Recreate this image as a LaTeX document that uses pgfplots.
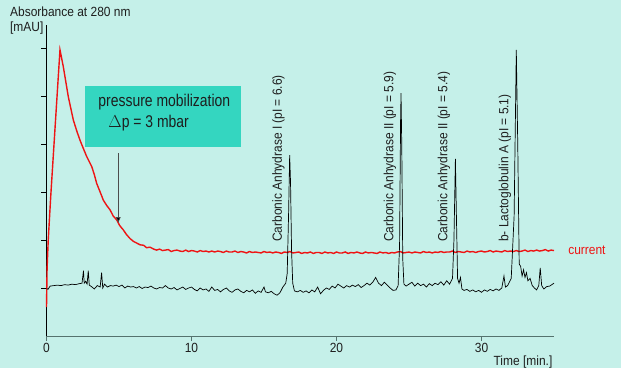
\documentclass[border=0pt]{standalone}
\usepackage{pgfplots}
\pgfplotsset{compat=1.18}
\usetikzlibrary{arrows.meta}
\usepackage{fontspec}
\setmainfont{Liberation Sans}[FakeStretch=0.9]
\newfontfamily\boxfont{Liberation Sans}[FakeStretch=0.82]
\definecolor{bg}{RGB}{197,240,233}
\definecolor{boxc}{RGB}{52,214,192}
\definecolor{xax}{RGB}{85,115,110}
\definecolor{txt}{RGB}{30,30,30}
\definecolor{redc}{RGB}{238,20,20}
\newcommand{\fs}{\fontsize{13.3}{15}\selectfont}
\newcommand{\bfs}{\boxfont\fontsize{17}{19}\selectfont}
\begin{document}
\begin{tikzpicture}
\path[use as bounding box, fill=bg] (-46.5pt,-32pt) rectangle (574.5pt,336pt);
\begin{axis}[
  scale only axis,
  width=507.5pt, height=311pt,
  xmin=0, xmax=35, ymin=-1, ymax=5.479,
  clip=false,
  axis x line*=bottom, axis y line*=left,
  x axis line style={draw=xax, line width=0.8pt},
  y axis line style={draw=black, line width=0.6pt},
  xtick={0,10,20,30},
  ytick={0,1,2,3,4,5}, yticklabels={},
  tick align=outside,
  major tick length=5pt,
  tick style={draw=xax, line width=0.5pt},
  ytick style={draw=black},
  xticklabel style={font=\fs, text=txt, yshift=1pt},
  /pgf/number format/assume math mode=true,
]
% red (current) trace
\addplot[redc, line width=1.4pt] coordinates {
(0,-0.4) (0.04,0.4) (0.12,1.0) (0.29,1.9) (0.58,3.29) (0.93,4.96) (1.16,4.61) (1.5,3.99) (1.85,3.5) (2.1,3.26) (2.31,3.08) (2.55,2.9) (2.77,2.74) (3.12,2.53) (3.3,2.36) (3.46,2.18) (3.7,2.0) (3.92,1.83) (4.15,1.72) (4.38,1.63) (4.6,1.5) (4.84,1.42) (5.05,1.3) (5.3,1.21) (5.5,1.12) (5.76,1.03) (6.0,0.97) (6.2,0.94) (6.45,0.9) (6.7,0.89) (6.9,0.84) (7.14,0.85)
(7.4,0.81) (7.6,0.79) (7.8,0.81) (8.0,0.78) (8.2,0.79) (8.4,0.80) (8.6,0.76) (8.8,0.78) (9.0,0.79) (9.2,0.77) (9.4,0.76) (9.6,0.79) (9.8,0.76) (10.0,0.78) (10.2,0.77) (10.4,0.75) (10.6,0.78) (10.8,0.76) (11.0,0.77) (11.2,0.75) (11.4,0.77) (11.6,0.75) (11.8,0.77) (12.0,0.76) (12.2,0.74) (12.4,0.77) (12.6,0.75) (12.8,0.75) (13.0,0.77) (13.2,0.74) (13.4,0.76) (13.6,0.75) (13.8,0.73) (14.0,0.76) (14.2,0.74) (14.4,0.75) (14.6,0.74) (14.8,0.73) (15.0,0.76) (15.2,0.74) (15.4,0.75) (15.6,0.73) (15.8,0.75) (16.0,0.74) (16.2,0.72) (16.4,0.75) (16.6,0.74) (16.8,0.76) (17.0,0.73) (17.2,0.74) (17.4,0.75) (17.6,0.72) (17.8,0.74) (18.0,0.73) (18.2,0.75) (18.4,0.72) (18.6,0.74) (18.8,0.74) (19.0,0.72) (19.2,0.75) (19.4,0.73) (19.6,0.74) (19.8,0.72) (20.0,0.75) (20.2,0.73) (20.4,0.73) (20.6,0.75) (20.8,0.72) (21.0,0.74) (21.2,0.73) (21.4,0.75) (21.6,0.73) (21.8,0.72) (22.0,0.75) (22.2,0.73) (22.4,0.74) (22.6,0.73) (22.8,0.72) (23.0,0.75) (23.2,0.73) (23.4,0.74) (23.6,0.72) (23.8,0.74) (24.0,0.73) (24.2,0.75) (24.4,0.76) (24.6,0.73) (24.8,0.74) (25.0,0.75) (25.2,0.73) (25.4,0.75) (25.6,0.74) (25.8,0.73) (26.0,0.76) (26.2,0.74) (26.4,0.75) (26.6,0.73) (26.8,0.75) (27.0,0.74) (27.2,0.76) (27.4,0.74) (27.6,0.75) (27.8,0.75) (28.0,0.77) (28.2,0.74) (28.4,0.76) (28.6,0.75) (28.8,0.74) (29.0,0.77) (29.2,0.75) (29.4,0.76) (29.6,0.74) (29.8,0.76) (30.0,0.77) (30.2,0.75) (30.4,0.76) (30.6,0.78) (30.8,0.75) (31.0,0.77) (31.2,0.76) (31.4,0.75) (31.6,0.78) (31.8,0.76) (32.0,0.77) (32.2,0.76) (32.4,0.78) (32.6,0.76) (32.8,0.77) (33.0,0.79) (33.2,0.76) (33.4,0.78) (33.6,0.77) (33.8,0.79) (34.0,0.77) (34.2,0.78) (34.4,0.80) (34.6,0.77) (34.8,0.79) (35.0,0.78)
};
% absorbance trace
\addplot[black, line width=0.7pt] coordinates {
(0,0.0) (0.1,-0.03) (0.25,0.04) (0.5,0.05) (0.75,0.06) (1.0,0.05) (1.25,0.07) (1.5,0.06) (1.75,0.08) (2.0,0.07) (2.25,0.09) (2.45,0.1) (2.55,0.36) (2.6,0.1) (2.7,0.14) (2.8,0.08) (2.88,0.36) (2.95,0.06) (3.1,0.03) (3.3,-0.02) (3.5,0.05) (3.7,0.02) (3.8,0.32) (3.88,0.0) (4.0,0.08) (4.2,0.02) (4.4,0.05) (4.6,0.04) (4.8,0.06) (5.0,0.03) (5.2,0.06) (5.4,0.0) (5.6,0.04) (5.8,0.02) (6.0,0.03) (6.2,0.0) (6.4,0.03) (6.6,-0.01) (6.8,0.02) (7.0,0.01) (7.2,0.04) (7.4,0.0) (7.6,-0.02) (7.8,0.01) (8.0,0.0) (8.2,0.05) (8.4,0.0) (8.6,-0.02) (8.8,0.01) (9.0,-0.04) (9.2,-0.01) (9.4,0.02) (9.6,-0.03) (9.8,0.0) (10.0,0.02) (10.2,-0.03) (10.4,-0.06) (10.6,0.0) (10.8,-0.04) (11.0,-0.02) (11.2,-0.07) (11.4,0.02) (11.6,-0.05) (11.8,-0.03) (12.0,-0.08) (12.2,-0.03) (12.4,0.0) (12.6,-0.06) (12.8,-0.09) (13.0,-0.04) (13.2,-0.02) (13.4,-0.07) (13.6,-0.1) (13.8,-0.05) (14.0,-0.08) (14.2,-0.04) (14.4,-0.11) (14.6,-0.06) (14.8,-0.09) (15.0,0.02) (15.1,-0.08) (15.3,-0.1) (15.5,-0.07) (15.7,-0.12) (15.9,-0.15) (16.1,-0.1) (16.3,0.02) (16.5,0.1) (16.6,0.3) (16.7,1.6) (16.77,2.77) (16.83,2.2) (16.9,0.8) (16.98,0.1) (17.1,-0.06) (17.3,-0.08) (17.5,-0.05) (17.7,-0.09) (17.9,-0.06) (18.1,-0.1) (18.3,-0.04) (18.5,-0.08) (18.7,0.02) (18.9,-0.12) (19.1,-0.05) (19.3,0.0) (19.5,-0.03) (19.7,0.04) (19.9,0.0) (20.1,0.08) (20.3,0.04) (20.5,0.0) (20.7,0.05) (20.9,0.02) (21.1,0.06) (21.3,0.03) (21.5,0.07) (21.7,0.01) (21.9,0.05) (22.1,0.1) (22.3,0.06) (22.5,0.12) (22.7,0.22) (22.9,0.1) (23.1,0.05) (23.3,0.12) (23.5,0.06) (23.7,0.0) (23.9,-0.05) (24.1,-0.04) (24.25,0.05) (24.35,0.9) (24.42,3.5) (24.45,4.06) (24.5,3.0) (24.57,0.6) (24.65,0.08) (24.8,0.04) (25.0,0.08) (25.2,0.12) (25.4,0.04) (25.6,0.1) (25.8,0.05) (26.0,0.08) (26.2,0.02) (26.4,0.09) (26.6,0.05) (26.8,0.1) (27.0,0.07) (27.2,0.13) (27.4,0.06) (27.6,0.15) (27.8,0.08) (28.0,0.2) (28.1,1.0) (28.2,2.69) (28.27,1.5) (28.35,0.2) (28.45,0.1) (28.55,0.22) (28.65,-0.02) (28.8,-0.05) (29.0,-0.03) (29.2,-0.07) (29.4,-0.04) (29.6,-0.08) (29.8,-0.05) (30.0,-0.09) (30.2,-0.04) (30.4,-0.07) (30.6,-0.03) (30.8,-0.06) (31.0,-0.02) (31.2,-0.05) (31.4,0.0) (31.55,0.25) (31.65,0.02) (31.8,0.05) (32.05,0.2) (32.25,1.5) (32.4,4.96) (32.5,3.0) (32.6,0.5) (32.7,0.45) (32.8,0.25) (32.9,0.38) (33.0,0.22) (33.1,0.32) (33.2,0.15) (33.35,0.2) (33.5,0.05) (33.65,0.0) (33.8,-0.04) (33.95,0.05) (34.05,0.42) (34.15,0.05) (34.3,-0.02) (34.5,0.03) (34.7,0.04) (34.9,0.08) (35.0,0.1)
};
% annotation box
\fill[boxc] (axis cs:2.66,4.21) rectangle (axis cs:13.41,2.94);
\node[anchor=west, inner sep=0pt, font=\bfs, text=txt] at (axis cs:3.57,3.88) {pressure mobilization};
\node[anchor=west, inner sep=0pt, font=\bfs, text=txt] at (axis cs:4.26,3.43) {$\Delta$p = 3 mbar};
\draw[gray!60!black, line width=0.6pt, -{Latex[length=6pt,width=5pt,fill=black]}] (axis cs:4.95,2.81) -- (axis cs:4.95,1.35);
% peak labels
\node[rotate=90, anchor=west, inner sep=0pt, font=\fs, text=txt] at (axis cs:15.99,0.96) {Carbonic Anhydrase I (pI = 6.6)};
\node[rotate=90, anchor=west, inner sep=0pt, font=\fs, text=txt] at (axis cs:23.69,0.96) {Carbonic Anhydrase II (pI = 5.9)};
\node[rotate=90, anchor=west, inner sep=0pt, font=\fs, text=txt] at (axis cs:27.41,0.96) {Carbonic Anhydrase II (pI = 5.4)};
\node[rotate=90, anchor=west, inner sep=0pt, font=\fs, text=txt] at (axis cs:31.62,0.96) {b- Lactoglobulin A (pI = 5.1)};
% axis titles
\node[anchor=west, inner sep=0pt, font=\fs, text=txt] at (axis cs:-2.52,5.75) {Absorbance at 280 nm};
\node[anchor=west, inner sep=0pt, font=\fs, text=txt] at (axis cs:-2.52,5.42) {[mAU]};
\node[anchor=east, inner sep=0pt, font=\fs, text=txt] at (axis cs:34.9,-1.54) {Time [min.]};
\node[anchor=west, inner sep=0pt, font=\fs, text=redc] at (axis cs:35.97,0.79) {current};
\end{axis}
\end{tikzpicture}
\end{document}
